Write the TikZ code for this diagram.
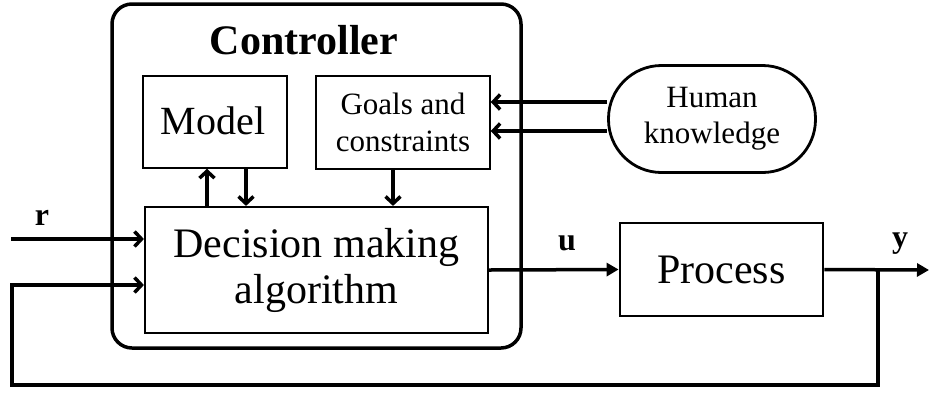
\documentclass[tikz,border=0pt]{standalone}
\usepackage{fontspec}
\setmainfont{Liberation Serif}
\usetikzlibrary{arrows.meta}
\begin{document}
\begin{tikzpicture}[x=1pt,y=-1pt,
  box/.style={draw,rectangle,inner sep=0pt,align=center},
  barb/.style={line width=3.5pt,-{Straight Barb[length=7pt,width=15pt]}},
  tri/.style={line width=3.5pt,-{Triangle[length=12pt,width=13pt]}},
  lbl/.style={font=\fontsize{32}{34}\selectfont\bfseries}]
\useasboundingbox (0,0) rectangle (929,392);
% controller frame
\draw[line width=3.5pt,rounded corners=20pt] (112,4) rectangle (521,348);
\node (ctitle) at (304,40) {\fontsize{42}{44}\selectfont\bfseries Controller};
% inner boxes
\node[box,line width=1.5pt,minimum width=144pt,minimum height=92pt] (model) at (215,122) {};
\node at (213,121) {\fontsize{40}{42}\selectfont Model};
\node[box,line width=1.5pt,minimum width=174pt,minimum height=93pt,font=\fontsize{31}{37}\selectfont] (goals) at (403,122.5) {Goals and\\constraints};
\node[box,line width=2.2pt,minimum width=343pt,minimum height=126pt,font=\fontsize{42}{46}\selectfont] (dec) at (316.5,270) {Decision making\\algorithm};
\node[box,line width=2.8pt,minimum width=203pt,minimum height=93pt,font=\fontsize{42}{46}\selectfont] (proc) at (721.5,269.5) {Process};
\node[box,line width=2.8pt,minimum width=207pt,minimum height=107pt,rounded corners=53pt,font=\fontsize{31}{36}\selectfont] (hk) at (712,119) {Human\\knowledge};
% internal arrows
\draw[barb] (dec.north -| 207,0) -- (model.south -| 207,0);
\draw[barb] (model.south -| 246,0) -- (dec.north -| 246,0);
\draw[barb] (goals.south -| 393,0) -- (dec.north -| 393,0);
\draw[barb] (hk.west |- 0,102) -- (goals.east |- 0,102);
\draw[barb] (hk.west |- 0,131) -- (goals.east |- 0,131);
% input r
\coordinate (rin) at (11,239);
\draw[barb] (rin) -- (rin -| dec.west);
\node[lbl] (rl) at (42,218) {r};
% u
\draw[tri] (dec.east) -- (proc.west);
\node[lbl] (ul) at (567,243) {u};
% y
\coordinate (yout) at (929,270);
\draw[tri] (proc.east) -- (yout);
\node[lbl] (yl) at (900,244) {y};
% feedback
\coordinate (fj) at (878,270);
\coordinate (fb) at (12,385);
\coordinate (fi) at (12,285);
\draw[barb,line join=miter] (fj) -- (fj |- fb) -- (fb) -- (fi) -- (fi -| dec.west);
\end{tikzpicture}
\end{document}
